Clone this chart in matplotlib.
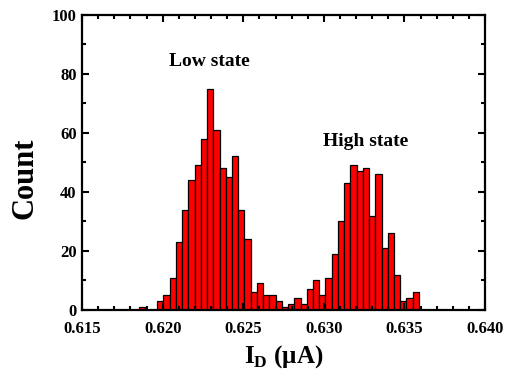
import numpy as np
import matplotlib
matplotlib.use("Agg")
import matplotlib.pyplot as plt
from matplotlib.ticker import MultipleLocator, FormatStrFormatter

plt.rcParams['font.family'] = ['Liberation Serif', 'DejaVu Serif']
plt.rcParams['font.weight'] = 'bold'
plt.rcParams['mathtext.fontset'] = 'custom'
plt.rcParams['mathtext.rm'] = 'Liberation Serif:bold'

# histogram counts (one per bin, left to right)
counts = [1, 0, 0, 3, 5, 11, 23, 34, 44, 49, 58, 75, 61, 48, 45, 52, 34, 24,
          6, 9, 5, 5, 3, 1, 2, 4, 2, 7, 10, 5, 11, 19, 30, 43, 49, 47, 48,
          32, 46, 21, 26, 12, 3, 4, 6]
bin_lo = 0.6185   # left edge of first bin (uA)
bin_hi = 0.6359   # right edge of last bin (uA)
edges = np.linspace(bin_lo, bin_hi, len(counts) + 1)

fig = plt.figure(figsize=(5.1, 3.82), dpi=100)
ax = fig.add_axes([0.161, 0.1885, 0.79, 0.773])

ax.bar(edges[:-1], counts, width=np.diff(edges), align='edge',
       color='red', edgecolor='black', linewidth=0.9)

ax.set_xlim(0.615, 0.640)
ax.set_ylim(0, 100)
ax.xaxis.set_major_locator(MultipleLocator(0.005))
ax.xaxis.set_minor_locator(MultipleLocator(0.001))
ax.xaxis.set_major_formatter(FormatStrFormatter('%.3f'))
ax.yaxis.set_major_locator(MultipleLocator(20))
ax.yaxis.set_minor_locator(MultipleLocator(10))
ax.tick_params(which='both', direction='in', top=True, right=True,
               labelsize=12, width=1.5)
ax.tick_params(axis='x', pad=8)
ax.tick_params(axis='y', pad=4)
ax.tick_params(which='major', length=5)
ax.tick_params(which='minor', length=3)
for s in ax.spines.values():
    s.set_linewidth(1.6)
for lab in ax.get_xticklabels() + ax.get_yticklabels():
    lab.set_fontweight('bold')

ax.set_ylabel('Count', fontsize=22, fontweight='bold')
ax.yaxis.set_label_coords(-0.106, 0.447)
ax.set_xlabel(r'I$_\mathregular{D}$ (μA)', fontsize=18, fontweight='bold', labelpad=4)

ax.text(0.6229, 84, 'Low state', fontsize=14, fontweight='bold', ha='center', va='center')
ax.text(0.6326, 57, 'High state', fontsize=14, fontweight='bold', ha='center', va='center')

fig.savefig('out.png', dpi=100)
